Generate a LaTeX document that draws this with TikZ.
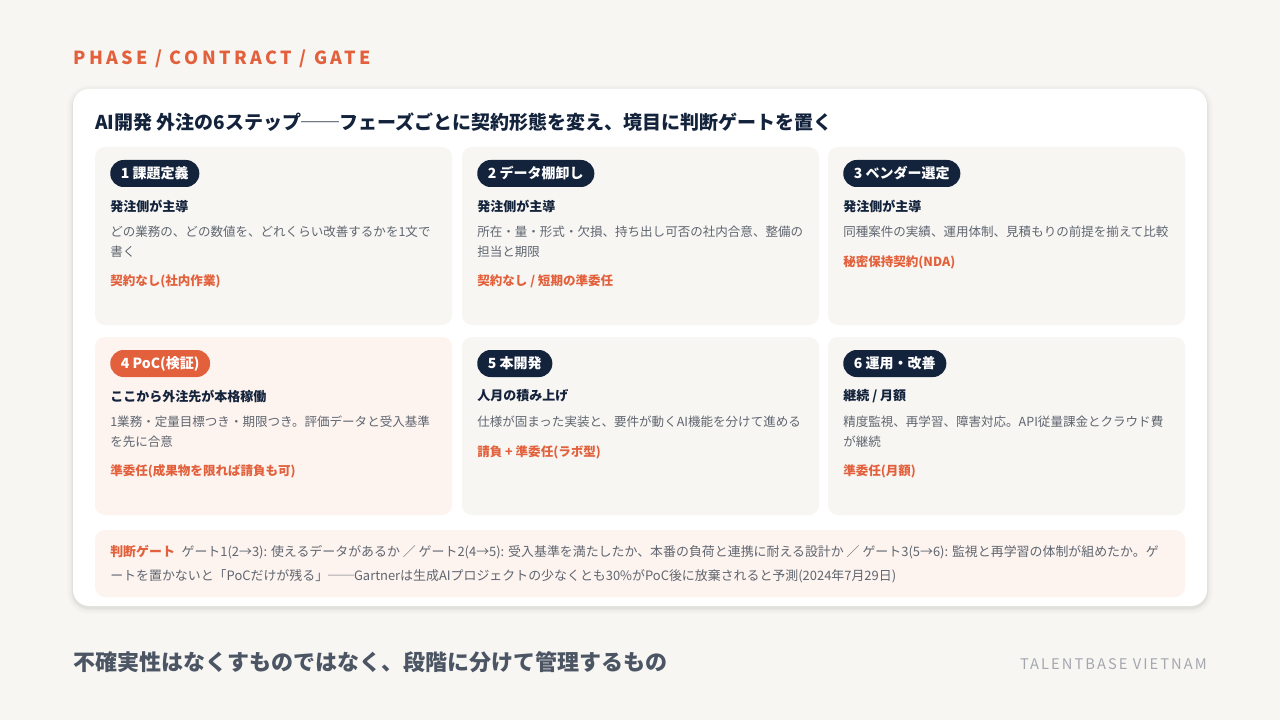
\documentclass[tikz,border=0pt]{standalone}
\usepackage{fontspec}
\setmainfont{Noto Sans CJK JP}
\newfontfamily\spacedfont[LetterSpace=19]{Noto Sans CJK JP}
\newfontfamily\spacedfontb[LetterSpace=14]{Noto Sans CJK JP}
\definecolor{pagebg}{HTML}{F8F6F3}
\definecolor{cardbg}{HTML}{F8F6F3}
\definecolor{hotbg}{HTML}{FDF3EF}
\definecolor{navy}{HTML}{14233C}
\definecolor{accent}{HTML}{E2613C}
\definecolor{bodygray}{HTML}{5F6670}
\definecolor{footgray}{HTML}{4B5563}
\definecolor{brandgray}{HTML}{A3A7AE}
\tikzset{
  cardA/.style={fill=cardbg, rounded corners=7.5pt},
  cardB/.style={fill=hotbg, rounded corners=7.5pt},
  badgeA/.style={fill=navy, text=white, rounded corners=10pt, minimum height=20.25pt, inner xsep=8pt, inner ysep=0pt, font=\fontsize{10.5pt}{12pt}\selectfont\bfseries},
  badgeB/.style={badgeA, fill=accent},
  subhead/.style={anchor=west, inner sep=0pt, text=navy, font=\fontsize{9.75pt}{12pt}\selectfont\bfseries},
  bodytext/.style={anchor=west, inner sep=0pt, align=left, text=bodygray, font=\fontsize{9.4pt}{15pt}\selectfont},
  contract/.style={anchor=west, inner sep=0pt, text=accent, font=\fontsize{9.4pt}{12pt}\selectfont\bfseries},
}
\newcommand{\StepCard}[9]{%
  \begin{scope}[shift={(#2,#3)}]
    \path[card#4] (0,0) rectangle (357,178);
    \node[badge#4, anchor=west] (#1b) at (15,26.5) {#5};
    \node[subhead] (#1s) at (15,59) {#6};
    \ifnum#8=2
      \node[bodytext] (#1t) at (15,95) {#7};
      \node[contract] (#1c) at (15,134) {#9};
    \else
      \node[bodytext] (#1t) at (15,85) {#7};
      \node[contract] (#1c) at (15,115) {#9};
    \fi
  \end{scope}}
\begin{document}
\begin{tikzpicture}[x=0.75pt, y=-0.75pt]
  \useasboundingbox (0,0) rectangle (1280,720);
  \fill[pagebg] (0,0) rectangle (1280,720);
  % header
  \node[anchor=west, inner sep=0pt, text=accent, font=\spacedfont\fontsize{13.5pt}{16pt}\selectfont\bfseries] (hdr) at (73,58.5) {PHASE / CONTRACT / GATE};
  % main card with soft shadow
  \foreach \e/\o in {6/0.012, 4/0.018, 2/0.025, 1/0.03}
    \fill[black, opacity=\o, rounded corners=12pt+\e*0.75pt] (73-\e,89-\e+2) rectangle (1207+\e,606+\e+2);
  \fill[white, rounded corners=12pt] (73,89) rectangle (1207,606);
  % title
  \node[anchor=west, inner sep=0pt, text=navy, font=\fontsize{14.25pt}{17pt}\selectfont\bfseries] (title) at (95,122) {AI開発 外注の6ステップ──フェーズごとに契約形態を変え、境目に判断ゲートを置く};
  % cards
  \StepCard{s1}{95}{147}{A}{1 課題定義}{発注側が主導}{どの業務の、どの数値を、どれくらい改善するかを1文で\\書く}{2}{契約なし(社内作業)}
  \StepCard{s2}{462}{147}{A}{2 データ棚卸し}{発注側が主導}{所在・量・形式・欠損、持ち出し可否の社内合意、整備の\\担当と期限}{2}{契約なし / 短期の準委任}
  \StepCard{s3}{828}{147}{A}{3 ベンダー選定}{発注側が主導}{同種案件の実績、運用体制、見積もりの前提を揃えて比較}{1}{秘密保持契約(NDA)}
  \StepCard{s4}{95}{337}{B}{4 PoC(検証)}{ここから外注先が本格稼働}{1業務・定量目標つき・期限つき。評価データと受入基準\\を先に合意}{2}{準委任(成果物を限れば請負も可)}
  \StepCard{s5}{462}{337}{A}{5 本開発}{人月の積み上げ}{仕様が固まった実装と、要件が動くAI機能を分けて進める}{1}{請負 + 準委任(ラボ型)}
  \StepCard{s6}{828}{337}{A}{6 運用・改善}{継続 / 月額}{精度監視、再学習、障害対応。API従量課金とクラウド費\\が継続}{2}{準委任(月額)}
  % gate bar
  \fill[hotbg, rounded corners=7.5pt] (95,530) rectangle (1185,597);
  \node[anchor=west, inner sep=0pt, align=left, text=bodygray, font=\fontsize{9.7pt}{18pt}\selectfont] (gate) at (110,564) {{\color{accent}\bfseries 判断ゲート}\hspace{5pt}ゲート1(2→3): 使えるデータがあるか ／ ゲート2(4→5): 受入基準を満たしたか、本番の負荷と連携に耐える設計か ／ ゲート3(5→6): 監視と再学習の体制が組めたか。ゲ\\ートを置かないと「PoCだけが残る」──Gartnerは生成AIプロジェクトの少なくとも30\%がPoC後に放棄されると予測(2024年7月29日)};
  % footer
  \node[anchor=west, inner sep=0pt, text=footgray, font=\fontsize{16.5pt}{20pt}\selectfont\bfseries] (foot) at (73,662) {不確実性はなくすものではなく、段階に分けて管理するもの};
  \node[anchor=east, inner sep=0pt, text=brandgray, font=\spacedfontb\fontsize{11pt}{13pt}\selectfont] (brand) at (1207,664) {TALENTBASE VIETNAM};
\end{tikzpicture}
\end{document}
